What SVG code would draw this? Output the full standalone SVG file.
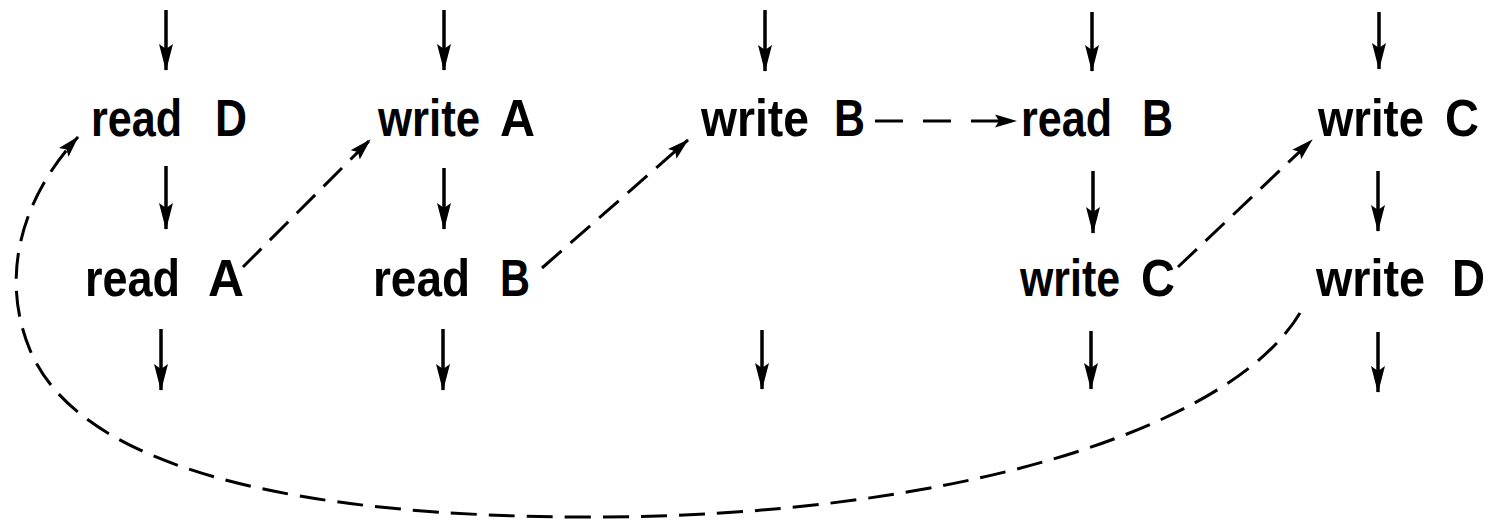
<svg xmlns="http://www.w3.org/2000/svg" width="1491" height="522" viewBox="0 0 1491 522">
<style>
text{font-family:"Liberation Sans",Arial,sans-serif;font-size:52px;font-weight:bold;fill:#000}
.solid{stroke:#000;stroke-width:3.5;fill:none}
.dash{stroke:#000;stroke-width:3;fill:none;stroke-dasharray:26 12}
</style>
<defs>
<marker id="ah" markerUnits="userSpaceOnUse" markerWidth="27" markerHeight="16" viewBox="0 0 27 16" refX="26" refY="8" orient="auto">
<path d="M0,1 L27,8 L0,15 L5,8 z" fill="#000"/>
</marker>
<marker id="ahd" markerUnits="userSpaceOnUse" markerWidth="22" markerHeight="14" viewBox="0 0 22 14" refX="21" refY="7" orient="auto">
<path d="M0,0.5 L22,7 L0,13.5 L4,7 z" fill="#000"/>
</marker>
</defs>
<rect width="1491" height="522" fill="#fff"/>
<g id="connectors">
<line class="solid" x1="166" y1="10" x2="166" y2="70" marker-end="url(#ah)"/>
<line class="solid" x1="444" y1="10" x2="444" y2="70" marker-end="url(#ah)"/>
<line class="solid" x1="765" y1="10" x2="765" y2="71" marker-end="url(#ah)"/>
<line class="solid" x1="1092" y1="12" x2="1092" y2="71" marker-end="url(#ah)"/>
<line class="solid" x1="1379" y1="12" x2="1379" y2="69" marker-end="url(#ah)"/>
<line class="solid" x1="166" y1="166" x2="166" y2="229" marker-end="url(#ah)"/>
<line class="solid" x1="444" y1="168" x2="444" y2="229" marker-end="url(#ah)"/>
<line class="solid" x1="1093" y1="171" x2="1093" y2="233" marker-end="url(#ah)"/>
<line class="solid" x1="1378" y1="171" x2="1378" y2="231" marker-end="url(#ah)"/>
<line class="solid" x1="161" y1="329" x2="161" y2="390" marker-end="url(#ah)"/>
<line class="solid" x1="443" y1="329" x2="443" y2="390" marker-end="url(#ah)"/>
<line class="solid" x1="762" y1="330" x2="762" y2="389" marker-end="url(#ah)"/>
<line class="solid" x1="1091" y1="331" x2="1091" y2="389" marker-end="url(#ah)"/>
<line class="solid" x1="1378" y1="332" x2="1378" y2="392" marker-end="url(#ah)"/>
<line class="dash" x1="243" y1="267" x2="370" y2="140" marker-end="url(#ahd)"/>
<line class="dash" x1="542" y1="268" x2="688" y2="140" marker-end="url(#ahd)"/>
<line class="dash" x1="1178" y1="267" x2="1312" y2="140" marker-end="url(#ahd)"/>
<line class="dash" x1="875" y1="121" x2="1016" y2="121" style="stroke-dasharray:28 20" marker-end="url(#ahd)"/>
<path class="dash" d="M1300,313 C1230,430 950,517 590,517 C300,517 80,470 30,350 C0,278 20,200 78,137" marker-end="url(#ahd)"/>
</g>
<g id="n-readD-1"><text x="91" y="136" textLength="91" lengthAdjust="spacingAndGlyphs">read</text><text x="215" y="136" textLength="32" lengthAdjust="spacingAndGlyphs">D</text></g>
<g id="n-writeA-1"><text x="378" y="136" textLength="102" lengthAdjust="spacingAndGlyphs">write</text><text x="500" y="136" textLength="35" lengthAdjust="spacingAndGlyphs">A</text></g>
<g id="n-writeB-1"><text x="701" y="136" textLength="108" lengthAdjust="spacingAndGlyphs">write</text><text x="834" y="136" textLength="31" lengthAdjust="spacingAndGlyphs">B</text></g>
<g id="n-readB-1"><text x="1021" y="136" textLength="91" lengthAdjust="spacingAndGlyphs">read</text><text x="1142" y="136" textLength="31" lengthAdjust="spacingAndGlyphs">B</text></g>
<g id="n-writeC-1"><text x="1318" y="136" textLength="106" lengthAdjust="spacingAndGlyphs">write</text><text x="1445" y="136" textLength="34" lengthAdjust="spacingAndGlyphs">C</text></g>
<g id="n-readA-2"><text x="85" y="296" textLength="95" lengthAdjust="spacingAndGlyphs">read</text><text x="208" y="296" textLength="36" lengthAdjust="spacingAndGlyphs">A</text></g>
<g id="n-readB-2"><text x="373" y="296" textLength="97" lengthAdjust="spacingAndGlyphs">read</text><text x="500" y="296" textLength="30" lengthAdjust="spacingAndGlyphs">B</text></g>
<g id="n-writeC-2"><text x="1020" y="296" textLength="100" lengthAdjust="spacingAndGlyphs">write</text><text x="1141" y="296" textLength="34" lengthAdjust="spacingAndGlyphs">C</text></g>
<g id="n-writeD-2"><text x="1316" y="296" textLength="109" lengthAdjust="spacingAndGlyphs">write</text><text x="1452" y="296" textLength="33" lengthAdjust="spacingAndGlyphs">D</text></g>
</svg>
